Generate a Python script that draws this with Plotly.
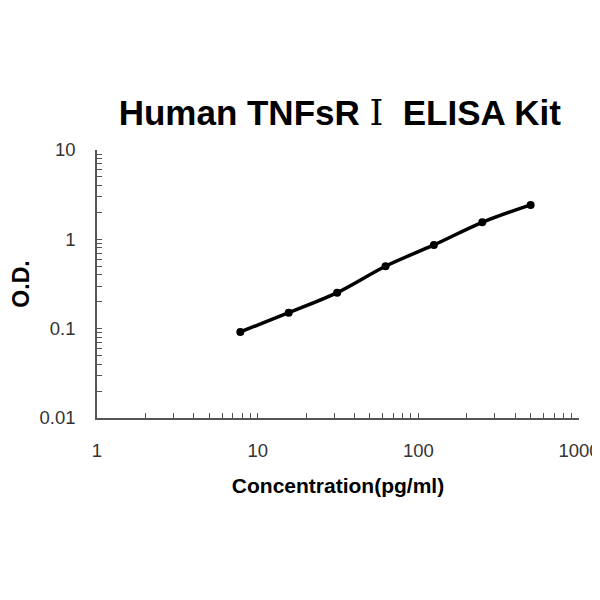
import plotly.graph_objects as go

conc = [7.8, 15.6, 31.25, 62.5, 125, 250, 500]
od = [0.092, 0.151, 0.253, 0.50, 0.865, 1.55, 2.43]

x_major = [1, 10, 100, 1000]
x_major_text = ["1", "10", "100", "1000"]
y_major = [0.01, 0.1, 1, 10]
y_major_text = ["0.01", "0.1", "1", "10"]

fig = go.Figure()
fig.add_trace(go.Scatter(
    x=conc, y=od, mode="lines+markers",
    line=dict(color="black", width=3.5, shape="spline", smoothing=1.0),
    marker=dict(color="black", size=8),
    showlegend=False,
))

tick_font = dict(family="Liberation Sans, Arial, sans-serif", size=18.5, color="#333333")
title_font = dict(family="Liberation Sans, Arial, sans-serif", size=21, color="black")

fig.update_layout(
    width=600, height=600,
    paper_bgcolor="white", plot_bgcolor="white",
    margin=dict(l=89, r=29, t=142, b=190, autoexpand=False),
    title=dict(
        text="<b>Human TNFsR <span style=\"font-family:'DejaVu Serif', 'Liberation Serif', serif; font-weight:normal\">Ⅰ</span>  ELISA Kit</b>",
        x=0.553, xanchor="center", y=0.825, yanchor="middle",
        font=dict(family="Liberation Sans, Arial, sans-serif", size=35, color="black"),
    ),
    xaxis=dict(
        type="log", range=[0, 3], automargin=False,
        tickvals=x_major, ticktext=x_major_text,
        ticks="inside", ticklen=5, tickcolor="#555555", tickwidth=1,
        minor=dict(ticks="inside", ticklen=5, tickcolor="#555555", dtick="D1", showgrid=False),
        showline=True, linecolor="#555555", linewidth=1.5,
        showgrid=False, zeroline=False, mirror=False,
        tickfont=tick_font, ticklabelstandoff=15,
        title=dict(text="<b>Concentration(pg/ml)</b>", font=title_font, standoff=18),
    ),
    yaxis=dict(
        type="log", range=[-2, 1], automargin=False,
        tickvals=y_major, ticktext=y_major_text,
        ticks="inside", ticklen=5, tickcolor="#555555", tickwidth=1,
        minor=dict(ticks="inside", ticklen=5, tickcolor="#555555", dtick="D1", showgrid=False),
        showline=True, linecolor="#555555", linewidth=1.5,
        showgrid=False, zeroline=False, mirror=False,
        tickfont=tick_font, ticklabelstandoff=16,
        title=dict(text="<b>O.D.</b>", font=dict(family="Liberation Sans, Arial, sans-serif", size=23, color="black"), standoff=24),
    ),
)

fig.write_html("out.html")
